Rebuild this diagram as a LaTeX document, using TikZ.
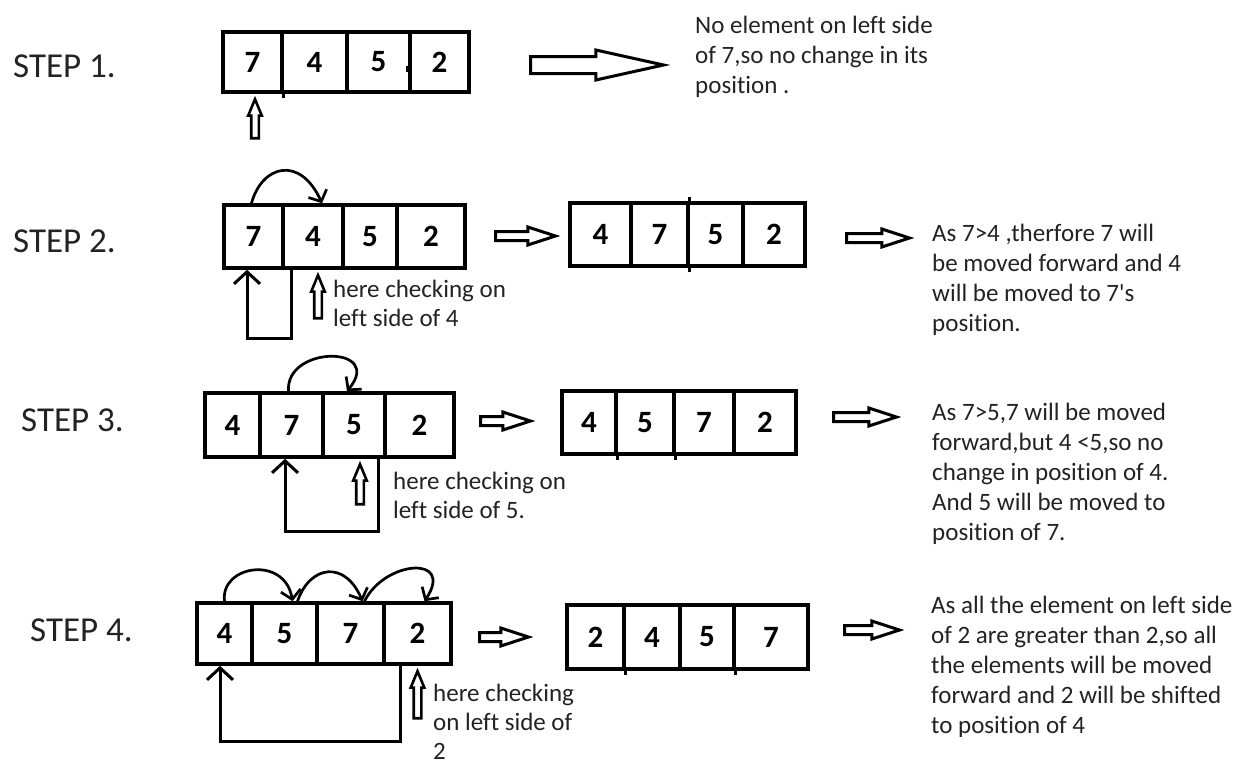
\documentclass[tikz,border=0pt]{standalone}
\usepackage{fontspec}
\setmainfont{Carlito}[Ligatures={NoCommon,TeXOff}]
\usetikzlibrary{shapes.arrows,arrows.meta}
\definecolor{ink}{RGB}{35,35,35}
\begin{document}
\begin{tikzpicture}[x=1pt,y=-1pt,
  cellbox/.style={draw, line width=3.6pt, inner sep=0pt, font=\bfseries\fontsize{31}{31}\selectfont},
  steplabel/.style={anchor=base west, inner sep=0pt, text=ink, font=\fontsize{35}{35}\selectfont},
  desc/.style={anchor=base west, inner sep=0pt, text=ink, font=\fontsize{25}{30}\selectfont},
  note/.style={anchor=base west, inner sep=0pt, text=ink, font=\fontsize{25}{29}\selectfont},
  bigarrow/.style={single arrow, draw, line width=3pt, inner sep=0pt, anchor=tail,
    text height=14pt, text depth=0pt, minimum width=27pt, single arrow head extend=6.5pt, single arrow tip angle=25},
  smallarrow/.style={single arrow, draw, line width=3pt, inner sep=0pt, anchor=tail,
    text height=6pt, text depth=0pt, minimum width=15pt, single arrow head extend=4.5pt, single arrow tip angle=36},
  vptr/.style={single arrow, draw, line width=2.6pt, inner sep=0pt, anchor=tip, rotate=90,
    text height=5pt, text depth=0pt, minimum width=11pt, single arrow head extend=3pt, single arrow tip angle=45},
  tick/.style={line width=3pt},
  curve/.style={line width=2.7pt, -{Straight Barb[length=9pt,width=20pt]}},
  hook/.style={line width=3pt, -{Straight Barb[length=12pt,width=26pt]}}
]
\useasboundingbox[fill=white] (0,0) rectangle (1253,758);

% ---------------- STEP 1 ----------------
\node[steplabel] (s1) at (13,77) {STEP 1.};
\node[cellbox, minimum width=59pt, minimum height=60pt] (a1c1) at (252.5,62) {7};
\node[cellbox, minimum width=65pt, minimum height=60pt] (a1c2) at (314.5,62) {4};
\node[cellbox, minimum width=63pt, minimum height=60pt] (a1c3) at (378.5,62) {5};
\node[cellbox, minimum width=59pt, minimum height=60pt] (a1c4) at (439.5,62) {2};
\fill (406,66) rectangle (410,72);
\draw[tick] (a1c1.south east) -- ++(0,4);
\node[vptr, minimum height=39pt] (p1) at ([xshift=2.5pt,yshift=-2pt]a1c1.south) {};
\node[bigarrow, minimum height=133pt] (r1) at (529,65) {};
\node[desc] (t1) at (695,33) {\begin{tabular}[t]{@{}l@{}}No element on left side\\ of 7,so no change in its\\ position .\end{tabular}};

% ---------------- STEP 2 ----------------
\node[steplabel] (s2) at (13,252) {STEP 2.};
\node[cellbox, minimum width=59pt, minimum height=63pt] (a2c1) at (253.5,236.5) {7};
\node[cellbox, minimum width=60pt, minimum height=63pt] (a2c2) at (313,236.5) {4};
\node[cellbox, minimum width=54pt, minimum height=63pt] (a2c3) at (370,236.5) {5};
\node[cellbox, minimum width=68pt, minimum height=63pt] (a2c4) at (431,236.5) {2};
\draw[curve] ([xshift=-2pt]a2c1.north) .. controls (262,165) and (300,155) .. ([xshift=9pt]a2c2.north);
\draw[hook] ([xshift=7pt]a2c1.south east) -- ++(0,69) -| ([xshift=-6.5pt]a2c1.south);
\node[vptr, minimum height=43pt] (p2) at ([xshift=5pt,yshift=-2pt]a2c2.south) {};
\node[note] (n2) at (333,297) {\begin{tabular}[t]{@{}l@{}}here checking on\\ left side of 4\end{tabular}};
\node[smallarrow, minimum height=60pt] (m2) at (494,236) {};
\node[cellbox, minimum width=61pt, minimum height=63pt] (b2c1) at (600.5,234.5) {4};
\node[cellbox, minimum width=57pt, minimum height=63pt] (b2c2) at (659.5,234.5) {7};
\node[cellbox, minimum width=55pt, minimum height=63pt] (b2c3) at (715.5,234.5) {5};
\node[cellbox, minimum width=62pt, minimum height=63pt] (b2c4) at (774,234.5) {2};
\draw[tick] (b2c2.north east) -- ++(0,-4);
\draw[tick] (b2c2.south east) -- ++(0,4);
\node[smallarrow, minimum height=63pt] (r2) at (845,238) {};
\node[desc] (t2) at (932,241) {\begin{tabular}[t]{@{}l@{}}As 7>4 ,therfore 7 will\\ be moved forward and 4\\ will be moved to 7's\\ position.\end{tabular}};

% ---------------- STEP 3 ----------------
\node[steplabel] (s3) at (21,431) {STEP 3.};
\node[cellbox, minimum width=55pt, minimum height=64pt] (a3c1) at (232.5,425) {4};
\node[cellbox, minimum width=63pt, minimum height=64pt] (a3c2) at (291.5,425) {7};
\node[cellbox, minimum width=62pt, minimum height=64pt] (a3c3) at (354,425) {5};
\node[cellbox, minimum width=69pt, minimum height=64pt] (a3c4) at (419.5,425) {2};
\draw[curve] ([xshift=-3pt]a3c2.north) .. controls (285,345) and (385,345) .. ([xshift=-7pt]a3c3.north);
\draw[hook] ([xshift=24pt]a3c3.south) -- ++(0,73) -| ([xshift=-6.5pt]a3c2.south);
\node[vptr, minimum height=40pt] (p3) at ([xshift=6pt,yshift=-2pt]a3c3.south) {};
\node[note] (n3) at (393,489) {\begin{tabular}[t]{@{}l@{}}here checking on\\ left side of 5.\end{tabular}};
\node[smallarrow, minimum height=50pt] (m3) at (479,421) {};
\node[cellbox, minimum width=54pt, minimum height=63pt] (b3c1) at (589,422.5) {4};
\node[cellbox, minimum width=58pt, minimum height=63pt] (b3c2) at (645,422.5) {5};
\node[cellbox, minimum width=60pt, minimum height=63pt] (b3c3) at (704,422.5) {7};
\node[cellbox, minimum width=62pt, minimum height=63pt] (b3c4) at (765,422.5) {2};
\draw[tick] (b3c1.south east) -- ++(0,4);
\draw[tick] (b3c2.south east) -- ++(0,4);
\node[smallarrow, minimum height=63pt] (r3) at (832,417) {};
\node[desc] (t3) at (932,420) {\begin{tabular}[t]{@{}l@{}}As 7>5,7 will be moved\\ forward,but 4 <5,so no\\ change in position of 4.\\ And 5 will be moved to\\ position of 7.\end{tabular}};

% ---------------- STEP 4 ----------------
\node[steplabel] (s4) at (30,641) {STEP 4.};
\node[cellbox, minimum width=55pt, minimum height=61pt] (a4c1) at (224.5,633.5) {4};
\node[cellbox, minimum width=65pt, minimum height=61pt] (a4c2) at (284.5,633.5) {5};
\node[cellbox, minimum width=67pt, minimum height=61pt] (a4c3) at (350.5,633.5) {7};
\node[cellbox, minimum width=67pt, minimum height=61pt] (a4c4) at (417.5,633.5) {2};
\draw[curve] (a4c1.north) .. controls (220,565) and (285,555) .. ([xshift=8pt]a4c2.north);
\draw[curve] ([xshift=13pt]a4c2.north) .. controls (310,565) and (345,560) .. ([xshift=12pt]a4c3.north);
\draw[curve] ([xshift=14pt]a4c3.north) .. controls (385,560) and (455,555) .. ([xshift=7pt]a4c4.north);
\draw[hook] ([xshift=-17.5pt]a4c4.south) -- ++(0,76) -| ([xshift=-4.5pt]a4c1.south);
\node[vptr, minimum height=47pt] (p4) at ([yshift=-2pt]a4c4.south) {};
\node[note] (n4) at (433,701) {\begin{tabular}[t]{@{}l@{}}here checking\\ on left side of\\ 2\end{tabular}};
\node[smallarrow, minimum height=49pt] (m4) at (478,637) {};
\node[cellbox, minimum width=57pt, minimum height=64pt] (b4c1) at (595.5,637) {2};
\node[cellbox, minimum width=56pt, minimum height=64pt] (b4c2) at (652,637) {4};
\node[cellbox, minimum width=54pt, minimum height=64pt] (b4c3) at (707,637) {5};
\node[cellbox, minimum width=74pt, minimum height=64pt] (b4c4) at (771,637) {7};
\draw[tick] (b4c1.south east) -- ++(0,4);
\draw[tick] (b4c3.south east) -- ++(0,4);
\node[smallarrow, minimum height=55pt] (r4) at (843,630) {};
\node[desc] (t4) at (931,613) {\begin{tabular}[t]{@{}l@{}}As all the element on left side\\ of 2 are greater than 2,so all\\ the elements will be moved\\ forward and 2 will be shifted\\ to position of 4\end{tabular}};
\end{tikzpicture}
\end{document}
